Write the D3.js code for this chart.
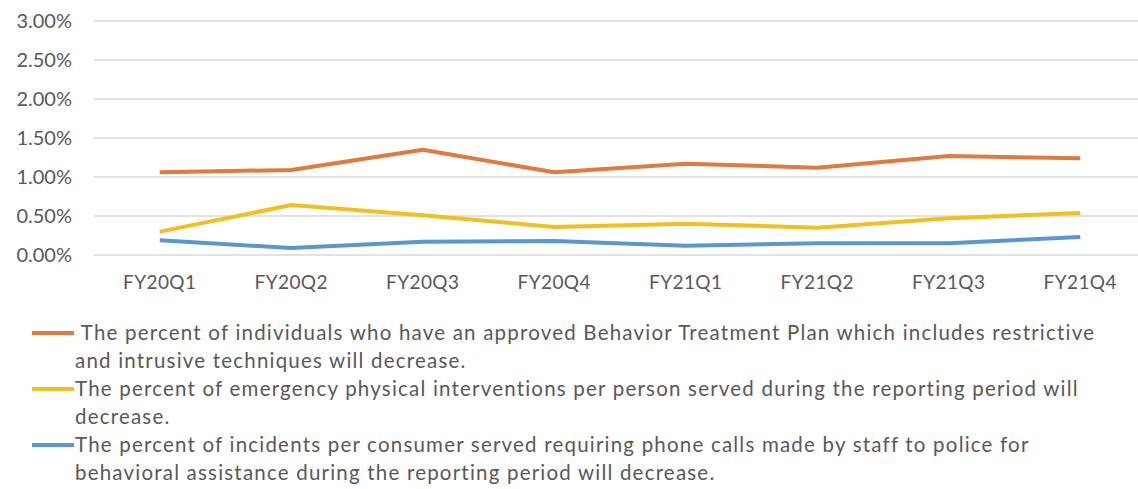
<!DOCTYPE html>
<html>
<head>
<meta charset="utf-8">
<script src="https://cdn.jsdelivr.net/npm/d3@7"></script>
<style>
  html, body { margin: 0; padding: 0; background: #fff; }
  svg { display: block; font-family: Lato, sans-serif; }
</style>
</head>
<body>
<svg id="chart" width="1138" height="489"></svg>
<script>
const quarters = ['FY20Q1', 'FY20Q2', 'FY20Q3', 'FY20Q4', 'FY21Q1', 'FY21Q2', 'FY21Q3', 'FY21Q4'];

// values in percent
const btpRestrictive = [1.06, 1.09, 1.35, 1.06, 1.17, 1.12, 1.27, 1.24];
const emergencyInterventions = [0.30, 0.64, 0.51, 0.36, 0.40, 0.35, 0.47, 0.54];
const policeCalls = [0.19, 0.09, 0.17, 0.18, 0.12, 0.15, 0.15, 0.23];

const yTicks = [0, 0.5, 1, 1.5, 2, 2.5, 3];

const legendLabels = [
  [' The percent of individuals who have an approved Behavior Treatment Plan which includes restrictive',
   'and intrusive techniques will decrease.'],
  ['The percent of emergency physical interventions per person served during the reporting period will',
   'decrease.'],
  ['The percent of incidents per consumer served requiring phone calls made by staff to police for',
   'behavioral assistance during the reporting period will decrease.']
];

const series = [
  {values: btpRestrictive, color: '#E37A3D'},
  {values: emergencyInterventions, color: '#F2C01E'},
  {values: policeCalls, color: '#5A97CF'}
];

const svg = d3.select('#chart');
const textColor = '#595959';

const margin = {left: 94, right: -8, top: 21, bottom: 234};
const width = +svg.attr('width');
const height = +svg.attr('height');

const x = d3.scaleBand()
  .domain(quarters)
  .range([margin.left, width - margin.right]);

const y = d3.scaleLinear()
  .domain([0, 3])
  .range([height - margin.bottom, margin.top]);

// gridlines
svg.append('g')
  .selectAll('line')
  .data(yTicks)
  .join('line')
  .attr('x1', margin.left)
  .attr('x2', width - margin.right)
  .attr('y1', (d) => y(d))
  .attr('y2', (d) => y(d))
  .attr('stroke', '#d9d9d9')
  .attr('stroke-width', 1.5);

// y axis labels
const yAxis = d3.axisLeft(y)
  .tickValues(yTicks)
  .tickSize(0)
  .tickPadding(0)
  .tickFormat((d) => d3.format('.2f')(d) + '%');

svg.append('g')
  .attr('transform', 'translate(72,0)')
  .call(yAxis)
  .call((g) => g.select('.domain').remove())
  .selectAll('text')
  .attr('fill', textColor)
  .style('font-size', '20px')
  .style('font-family', 'Lato, sans-serif');

// x axis labels
const xAxis = d3.axisBottom(x).tickSize(0).tickPadding(0);

svg.append('g')
  .attr('transform', `translate(0,${y(0) + 20})`)
  .call(xAxis)
  .call((g) => g.select('.domain').remove())
  .selectAll('text')
  .attr('fill', textColor)
  .style('font-size', '19px')
  .style('letter-spacing', '0.4px')
  .style('font-family', 'Lato, sans-serif');

// lines
const line = d3.line()
  .x((d, i) => x(quarters[i]) + x.bandwidth() / 2)
  .y((d) => y(d));

svg.append('g')
  .selectAll('path')
  .data(series)
  .join('path')
  .attr('d', (d) => line(d.values))
  .attr('fill', 'none')
  .attr('stroke', (d) => d.color)
  .attr('stroke-width', 4)
  .attr('stroke-linejoin', 'round');

// legend
const legendTop = 333;
const rowStep = 28;
const legend = svg.append('g');

series.forEach((s, i) => {
  const rowY = legendTop + i * rowStep * 2;
  legend.append('line')
    .attr('x1', 32)
    .attr('x2', 74)
    .attr('y1', rowY)
    .attr('y2', rowY)
    .attr('stroke', s.color)
    .attr('stroke-width', 4);

  const t = legend.append('text')
    .attr('fill', textColor)
    .style('font-size', '20.5px')
    .style('letter-spacing', '1.2px')
    .style('white-space', 'pre');

  legendLabels[i].forEach((txt, j) => {
    t.append('tspan')
      .attr('x', 75)
      .attr('y', rowY + 7 + j * rowStep)
      .text(txt);
  });
});
</script>
</body>
</html>
